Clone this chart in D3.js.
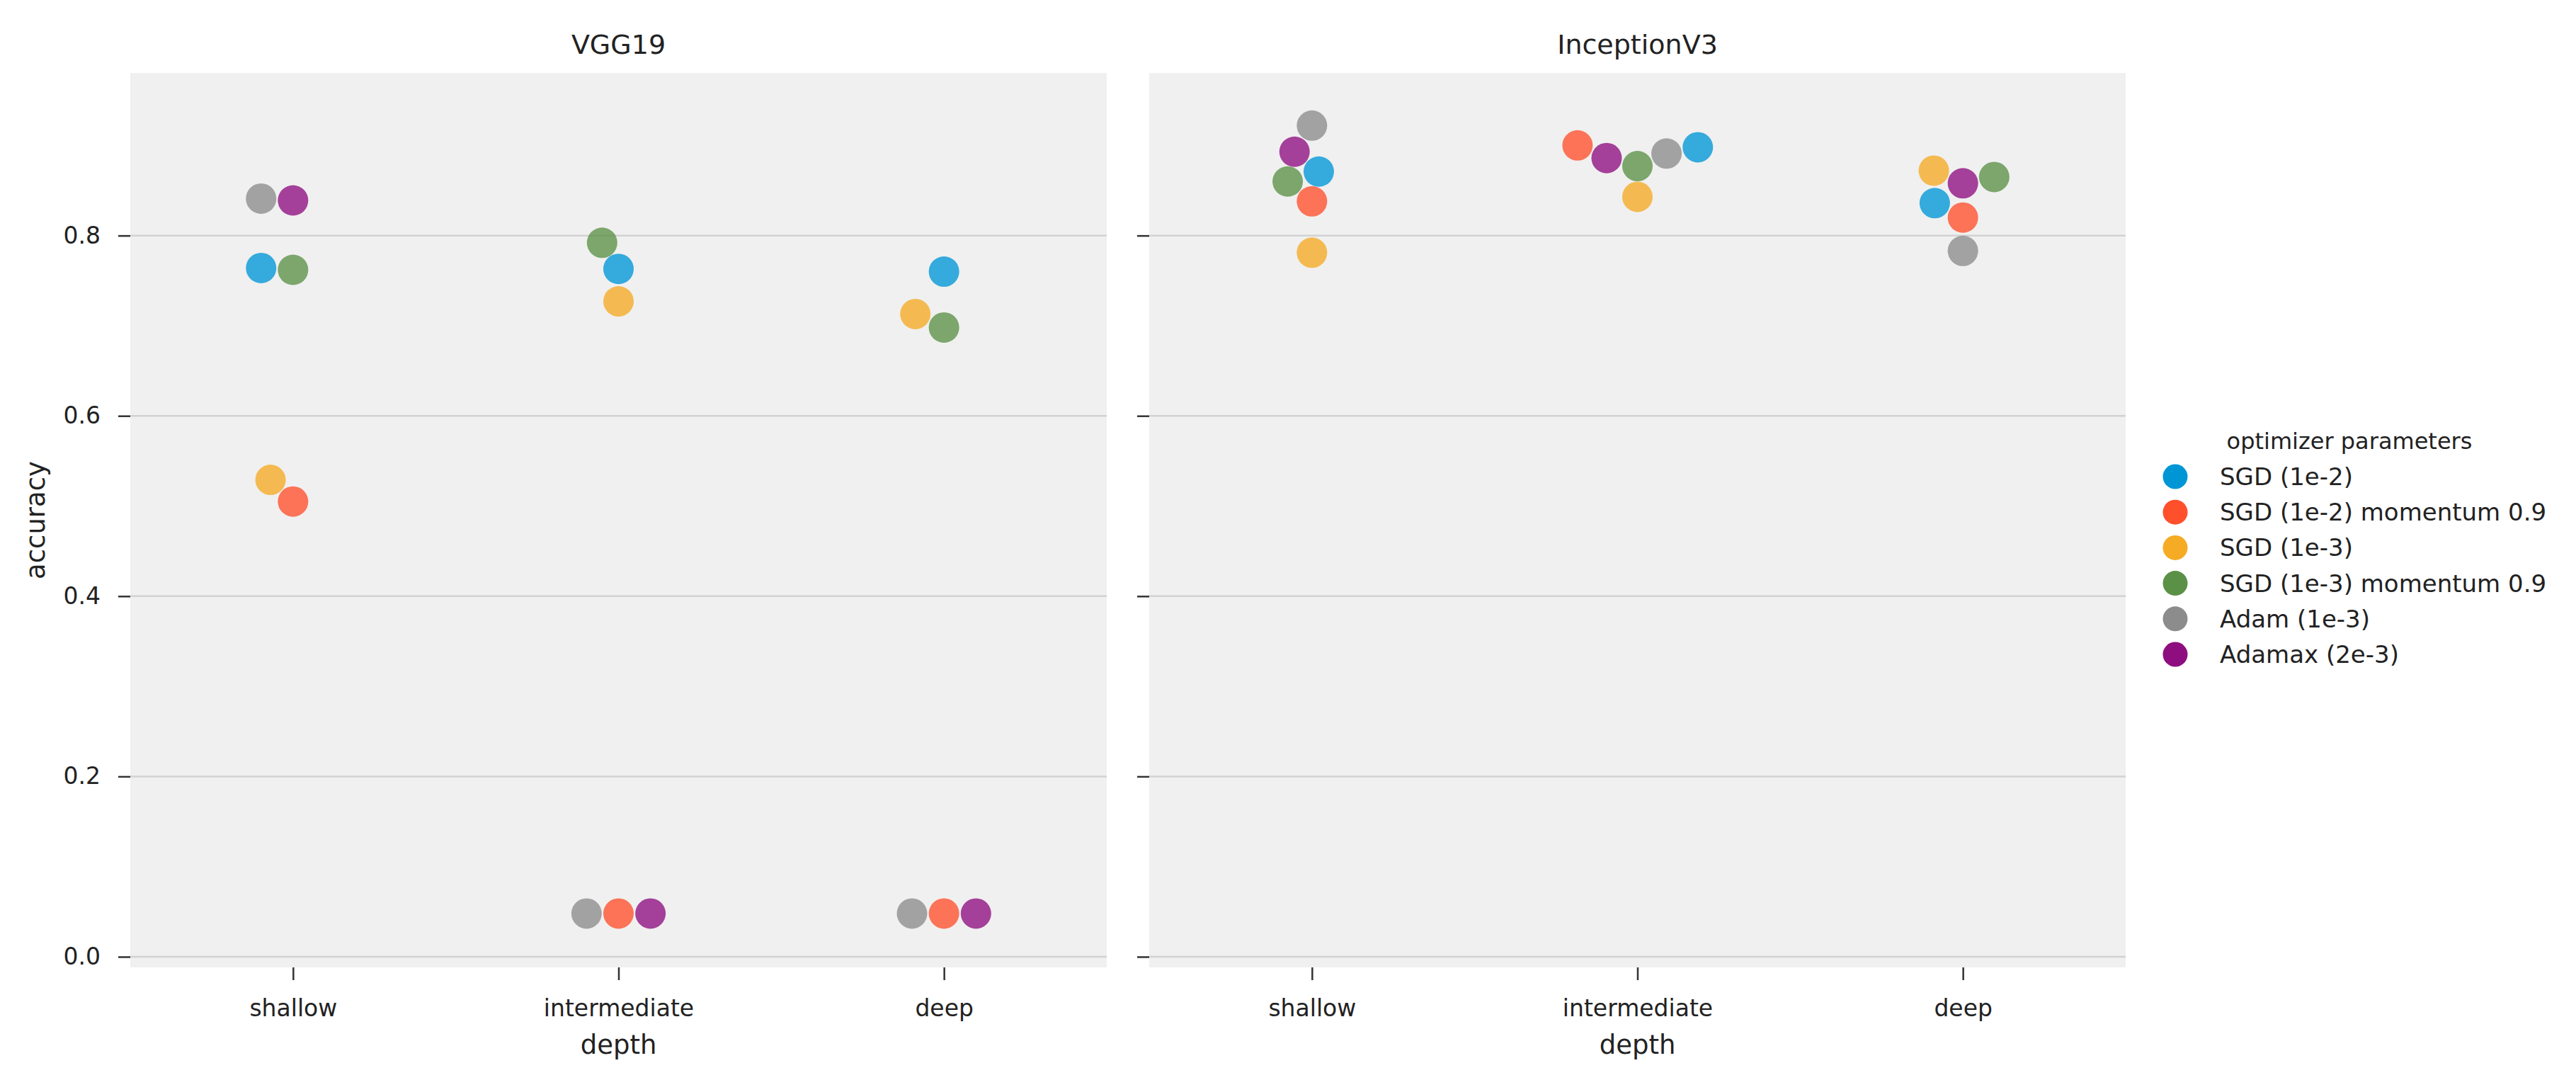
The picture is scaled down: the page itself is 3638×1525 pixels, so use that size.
<!DOCTYPE html>
<html>
<head>
<meta charset="utf-8">
<script src="https://cdn.jsdelivr.net/npm/d3@7"></script>
<style>
  body { margin: 0; background: #fff; }
  text { font-family: "DejaVu Sans", sans-serif; fill: #222; }
</style>
</head>
<body>
<div id="container"></div>
<script>
const WIDTH = 3638;
const HEIGHT = 1525;
const PANEL_TOP = 103;
const PANEL_BOTTOM = 1366;
const PANEL_W = 1379;
const PANEL_LEFT = [184, 1623];
const R = 21.5;

const models = ["VGG19", "InceptionV3"];
const depths = ["shallow", "intermediate", "deep"];
const optimizers = [
  "SGD (1e-2)",
  "SGD (1e-2) momentum 0.9",
  "SGD (1e-3)",
  "SGD (1e-3) momentum 0.9",
  "Adam (1e-3)",
  "Adamax (2e-3)",
];
const colors = ["#0096d6", "#ff4f2b", "#f5ab24", "#5b9146", "#8c8c8c", "#8e0e80"];
const yTicks = [0, 0.2, 0.4, 0.6, 0.8];

// accuracy: one row per optimizer, columns = shallow, intermediate, deep
const vgg19Acc = [
  [0.764, 0.763, 0.760],
  [0.505, 0.048, 0.048],
  [0.529, 0.727, 0.713],
  [0.762, 0.792, 0.698],
  [0.841, 0.048, 0.048],
  [0.839, 0.048, 0.048],
];
const inceptionAcc = [
  [0.871, 0.898, 0.836],
  [0.838, 0.900, 0.820],
  [0.781, 0.843, 0.872],
  [0.860, 0.877, 0.865],
  [0.922, 0.891, 0.783],
  [0.893, 0.886, 0.858],
];
const accByModel = [vgg19Acc, inceptionAcc];

const svg = d3
  .select("div#container")
  .append("svg")
  .attr("width", WIDTH)
  .attr("height", HEIGHT);

const yScale = d3
  .scaleLinear()
  .domain([-0.0118, 0.9804])
  .range([PANEL_BOTTOM, PANEL_TOP]);

// seaborn-like beeswarm placement, points sorted by value
function swarm(points, midline) {
  const placed = [];
  points.forEach((p) => {
    const neighbors = [];
    for (let j = placed.length - 1; j >= 0; j--) {
      if (Math.abs(p.y - placed[j].y) < 2 * R) neighbors.push(placed[j]);
      else break;
    }
    const cands = [midline];
    let leftFirst = true;
    neighbors.forEach((q) => {
      const dy = p.y - q.y;
      const dx = Math.sqrt(Math.max(4 * R * R - dy * dy, 0)) * 1.05;
      cands.push(...(leftFirst ? [q.x - dx, q.x + dx] : [q.x + dx, q.x - dx]));
      leftFirst = !leftFirst;
    });
    cands.sort((a, b) => Math.abs(a - midline) - Math.abs(b - midline));
    const ok = cands.find((cx) =>
      neighbors.every((q) => (q.x - cx) ** 2 + (q.y - p.y) ** 2 >= 4 * R * R - 1e-6)
    );
    p.x = ok === undefined ? cands[cands.length - 1] : ok;
    placed.push(p);
  });
  return placed;
}

models.forEach((model, m) => {
  const left = PANEL_LEFT[m];
  const xScale = d3
    .scalePoint()
    .domain(depths)
    .range([left, left + PANEL_W])
    .padding(0.5);

  const g = svg.append("g");

  g.append("rect")
    .attr("x", left)
    .attr("y", PANEL_TOP)
    .attr("width", PANEL_W)
    .attr("height", PANEL_BOTTOM - PANEL_TOP)
    .attr("fill", "#f0f0f0");

  g.selectAll("line.grid")
    .data(yTicks)
    .enter()
    .append("line")
    .attr("class", "grid")
    .attr("x1", left)
    .attr("x2", left + PANEL_W)
    .attr("y1", (d) => yScale(d))
    .attr("y2", (d) => yScale(d))
    .attr("stroke", "#d2d2d2")
    .attr("stroke-width", 2.5);

  const yAxis = d3
    .axisLeft(yScale)
    .tickValues(yTicks)
    .tickSize(17)
    .tickPadding(25)
    .tickFormat(m === 0 ? d3.format(".1f") : () => "");

  const yg = g
    .append("g")
    .attr("transform", `translate(${left}, 0)`)
    .call(yAxis);
  yg.select(".domain").remove();
  yg.selectAll(".tick line").attr("stroke", "#333").attr("stroke-width", 2.5);
  yg.selectAll(".tick text")
    .attr("font-size", 33)
    .attr("font-family", "DejaVu Sans");

  const xAxis = d3.axisBottom(xScale).tickSize(18).tickPadding(28);
  const xg = g
    .append("g")
    .attr("transform", `translate(0, ${PANEL_BOTTOM})`)
    .call(xAxis);
  xg.select(".domain").remove();
  xg.selectAll(".tick line").attr("stroke", "#333").attr("stroke-width", 2.5);
  xg.selectAll(".tick text")
    .attr("font-size", 33)
    .attr("font-family", "DejaVu Sans");

  g.append("text")
    .attr("x", left + PANEL_W / 2)
    .attr("y", 76)
    .attr("text-anchor", "middle")
    .attr("font-size", 38)
    .text(model);

  g.append("text")
    .attr("x", left + PANEL_W / 2)
    .attr("y", 1488)
    .attr("text-anchor", "middle")
    .attr("font-size", 37)
    .text("depth");

  const acc = accByModel[m];
  depths.forEach((depth, d) => {
    const pts = optimizers
      .map((opt, i) => ({ i, value: acc[i][d], y: yScale(acc[i][d]) }))
      .sort((a, b) => a.value - b.value);
    swarm(pts, xScale(depth));
    g.selectAll(null)
      .data(pts)
      .enter()
      .append("circle")
      .attr("cx", (p) => p.x)
      .attr("cy", (p) => p.y)
      .attr("r", R)
      .attr("fill", (p) => colors[p.i])
      .attr("fill-opacity", 0.78);
  });
});

svg.append("text")
  .attr("transform", `translate(63, ${(PANEL_TOP + PANEL_BOTTOM) / 2}) rotate(-90)`)
  .attr("text-anchor", "middle")
  .attr("font-size", 37)
  .text("accuracy");

// legend
const legend = svg.append("g");
legend.append("text")
  .attr("x", 3318)
  .attr("y", 634)
  .attr("text-anchor", "middle")
  .attr("font-size", 32)
  .text("optimizer parameters");

const rowY = d3.scalePoint().domain(optimizers).range([673, 924]);

const rows = legend
  .selectAll("g.row")
  .data(optimizers)
  .enter()
  .append("g")
  .attr("class", "row")
  .attr("transform", (d) => `translate(0, ${rowY(d)})`);

rows.append("circle")
  .attr("cx", 3072)
  .attr("cy", 0)
  .attr("r", 17.5)
  .attr("fill", (_, i) => colors[i]);

rows.append("text")
  .attr("x", 3135)
  .attr("y", 12)
  .attr("font-size", 34)
  .text((d) => d);
</script>
</body>
</html>
